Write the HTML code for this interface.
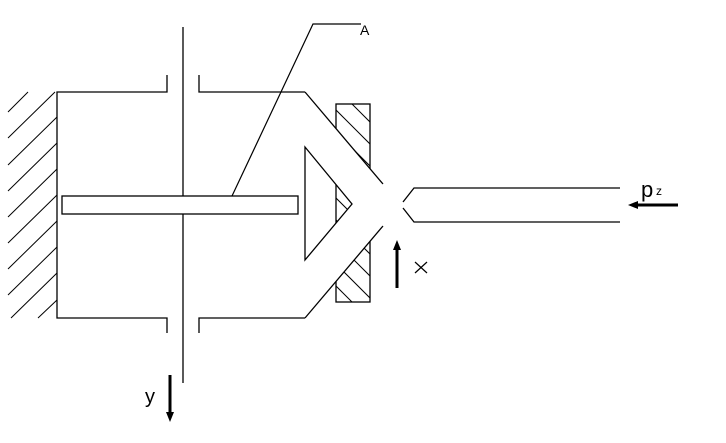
<!DOCTYPE html>
<html><head><style>html,body{margin:0;padding:0;background:#fff}svg{display:block}</style></head>
<body>
<svg width="726" height="443" viewBox="0 0 726 443" xmlns="http://www.w3.org/2000/svg">
<defs>
<clipPath id="blk"><rect x="336" y="104" width="34" height="198"/></clipPath>
<clipPath id="tri"><polygon points="305,147 352,204 305,260"/></clipPath>
<g id="hatch">
<rect x="336" y="104" width="34" height="198" fill="#fff" stroke="#000" stroke-width="1.3"/>
<g clip-path="url(#blk)" stroke="#000" stroke-width="1">
<line x1="300" y1="52" x2="420" y2="172"/><line x1="300" y1="74" x2="420" y2="194"/>
<line x1="300" y1="96" x2="420" y2="216"/><line x1="300" y1="118" x2="420" y2="238"/>
<line x1="300" y1="140" x2="420" y2="260"/><line x1="300" y1="162" x2="420" y2="282"/>
<line x1="300" y1="184" x2="420" y2="304"/><line x1="300" y1="206" x2="420" y2="326"/>
<line x1="300" y1="228" x2="420" y2="348"/><line x1="300" y1="250" x2="420" y2="370"/>
<line x1="300" y1="272" x2="420" y2="392"/>
</g>
</g>
</defs>
<use href="#hatch"/>
<polygon points="305,92 383,184 383,226 305,318 300,318 300,92" fill="#fff"/>
<g clip-path="url(#tri)"><use href="#hatch"/></g>
<g fill="none" stroke="#000" stroke-width="1.3">
<g stroke-width="1">
<line x1="8" y1="112" x2="28" y2="92"/><line x1="8" y1="138" x2="55" y2="92"/>
<line x1="8" y1="165" x2="57" y2="117"/><line x1="8" y1="191" x2="57" y2="143"/>
<line x1="8" y1="217" x2="57" y2="169"/><line x1="8" y1="243" x2="57" y2="195"/>
<line x1="8" y1="269" x2="57" y2="221"/><line x1="8" y1="295" x2="57" y2="247"/>
<line x1="11" y1="318" x2="57" y2="273"/><line x1="38" y1="318" x2="57" y2="300"/>
</g>
<polyline points="167,75 167,92 57,92 57,318 167,318 167,333"/>
<polyline points="199,75 199,92 305,92"/>
<polyline points="199,333 199,318 305,318"/>
<line x1="183" y1="27" x2="183" y2="383"/>
<line x1="305" y1="92" x2="383" y2="184"/>
<line x1="383" y1="226" x2="305" y2="318"/>
<polygon points="305,147 352,204 305,260"/>
<rect x="62" y="196" width="236" height="18" fill="#fff"/>
<polyline points="620,188 414,188 403,202"/>
<polyline points="403,208 414,222 620,222"/>
<polyline points="232,196 313,24 361,24" stroke-width="1.2"/>
</g>
<g stroke="#000" stroke-width="3">
<line x1="678" y1="205" x2="636" y2="205"/>
<line x1="397" y1="288" x2="397" y2="248"/>
<line x1="170" y1="375" x2="170" y2="414"/>
</g>
<polygon points="628,205 638,201 638,209" fill="#000"/>
<polygon points="397,240 393,250 401,250" fill="#000"/>
<polygon points="170,422 166,412 174,412" fill="#000"/>
<g stroke="#000" stroke-width="1.2" fill="none">
<line x1="415" y1="262" x2="427" y2="273"/><line x1="427" y1="262" x2="415" y2="273"/>
</g>
<g font-family="Liberation Sans, sans-serif" fill="#000">
<text x="360" y="35" font-size="14">A</text>
<text x="641" y="197" font-size="22">p</text>
<text x="656" y="195" font-size="12">z</text>
<text x="145" y="403" font-size="20">y</text>
</g>
</svg>
</body></html>
